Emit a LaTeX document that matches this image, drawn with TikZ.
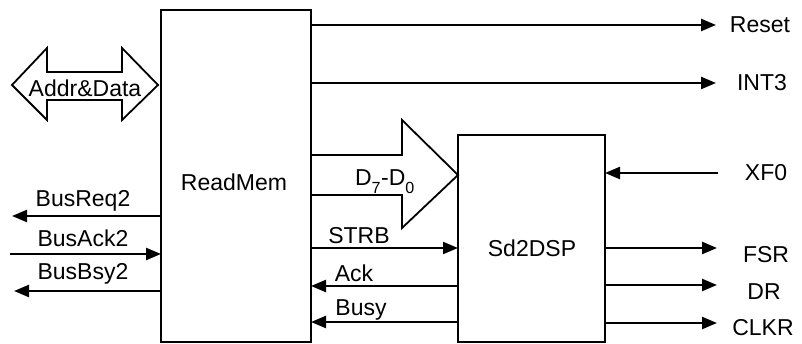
\documentclass[tikz,border=0pt]{standalone}
\usepackage{fontspec}
\setmainfont{Liberation Sans}
\usetikzlibrary{arrows.meta}
\begin{document}
\begin{tikzpicture}[x=1pt,y=-1pt,
  box/.style={draw, line width=1.8pt, inner sep=0pt, outer sep=0pt},
  sig/.style={line width=2.4pt, -{Triangle[length=15pt,width=12pt]}},
  lbl/.style={inner sep=0pt, font=\fontsize{23}{27}\selectfont},
  fat/.style={line width=1.8pt, line join=miter}]
\useasboundingbox (0,0) rectangle (802,344);
% blocks
\node[box, minimum width=150pt, minimum height=332pt] (rm) at (236,176) {};
\node[lbl] (rmt) at (234,182) {ReadMem};
\node[box, minimum width=147pt, minimum height=207pt] (sd) at (531.5,238.5) {};
\node[lbl] (sdt) at (532,248) {Sd2DSP};
% Addr&Data double arrow
\draw[fat] (12,85) -- (47,48) -- (47,72) -- (122,72) -- (122,48) -- (158,85)
  -- (122,120) -- (122,100) -- (47,100) -- (47,120) -- cycle;
\node[lbl] (ad) at (85,88) {Addr\&Data};
% D7-D0 bus arrow
\draw[fat] (rm.east |- 0,155) -- (402,155) -- (402,120) -- (sd.west |- 0,175)
  -- (402,228) -- (402,195) -- (rm.east |- 0,195);
\node[lbl] (dd) at (385,182) {D\raisebox{-0.35ex}{\textsubscript{7}}-D\raisebox{-0.35ex}{\textsubscript{0}}};
% right outputs of ReadMem
\coordinate (creset) at (716,25);
\coordinate (cint) at (716,83);
\draw[sig] (rm.east |- creset) -- (creset);
\draw[sig] (rm.east |- cint) -- (cint);
\node[lbl] (lreset) at (760,25) {Reset};
\node[lbl] (lint) at (762,83) {INT3};
% left signals
\coordinate (creq) at (12,216);
\coordinate (cack) at (10,254);
\coordinate (cbsy) at (14,291);
\draw[sig] (rm.west |- creq) -- (creq);
\draw[sig] (cack) -- (rm.west |- cack);
\draw[sig] (rm.west |- cbsy) -- (cbsy);
\node[lbl] (lreq) at (83,201) {BusReq2};
\node[lbl] (lack) at (83,238) {BusAck2};
\node[lbl] (lbsy) at (83,274) {BusBsy2};
% between blocks
\draw[sig] (rm.east |- 0,248) -- (sd.west |- 0,248);
\draw[sig] (sd.west |- 0,286) -- (rm.east |- 0,286);
\draw[sig] (sd.west |- 0,322) -- (rm.east |- 0,322);
\node[lbl] (lstrb) at (359,236) {STRB};
\node[lbl] (lackk) at (354,273) {Ack};
\node[lbl] (lbusy) at (361,310) {Busy};
% right of Sd2DSP
\coordinate (cxf) at (718,173);
\coordinate (cfsr) at (717,248);
\coordinate (cdr) at (717,285);
\coordinate (cclk) at (717,323);
\draw[sig] (cxf) -- (sd.east |- cxf);
\draw[sig] (sd.east |- cfsr) -- (cfsr);
\draw[sig] (sd.east |- cdr) -- (cdr);
\draw[sig] (sd.east |- cclk) -- (cclk);
\node[lbl] (lxf) at (766,173) {XF0};
\node[lbl] (lfsr) at (766,255) {FSR};
\node[lbl] (ldr) at (764,292) {DR};
\node[lbl] (lclk) at (763,328) {CLKR};
\end{tikzpicture}
\end{document}
